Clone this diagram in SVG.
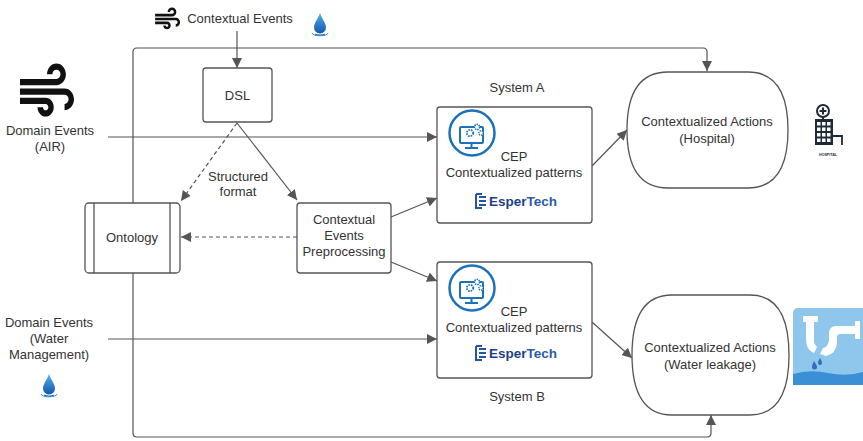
<svg xmlns="http://www.w3.org/2000/svg" width="863" height="441" viewBox="0 0 863 441">
  <style>
    .lbl { font-family: "Liberation Sans", Arial, sans-serif; font-size: 13px; fill: #333; text-anchor: middle; }
    .box { fill: #fff; stroke: #555; stroke-width: 1.3; }
    .edge { fill: none; stroke: #555; stroke-width: 1.2; }
    .dash { stroke-dasharray: 4 3; }
    .esper { font-family: "Liberation Sans", Arial, sans-serif; font-size: 13.5px; font-weight: bold; }
  </style>
  <defs>
    <marker id="arr" viewBox="0 0 10 10" refX="10" refY="5" markerWidth="10" markerHeight="10" markerUnits="userSpaceOnUse" orient="auto">
      <path d="M0,0 L10,5 L0,10 Z" fill="#555"/>
    </marker>
    <symbol id="wind" viewBox="0 0 24 24" preserveAspectRatio="none">
      <path fill="#111" d="M14.5 17c0 1.65-1.35 3-3 3s-3-1.35-3-3h2c0 .55.45 1 1 1s1-.45 1-1-.45-1-1-1H2v-2h9.5c1.650 0 3 1.35 3 3zM19 6.5C19 4.57 17.43 3 15.5 3S12 4.57 12 6.5h2c0-.83.67-1.5 1.5-1.5s1.5.67 1.5 1.5S16.330 8 15.5 8H2v2h13.5c1.93 0 3.5-1.57 3.5-3.5zm-.5 4.5H2v2h16.5c.83 0 1.5.67 1.5 1.5s-.67 1.5-1.5 1.5v2c1.93 0 3.5-1.570 3.5-3.5S20.43 11 18.5 11z"/>
    </symbol>
    <linearGradient id="dropGrad" x1="0" y1="0" x2="0" y2="1">
      <stop offset="0" stop-color="#4fb0ee"/>
      <stop offset="1" stop-color="#1457a8"/>
    </linearGradient>
    <symbol id="drop" viewBox="-10 -12 20 26" overflow="visible">
      <path d="M0,-11 C2,-5 6,-1 6,3.5 A6,6 0 0 1 -6,3.5 C-6,-1 -2,-5 0,-11 Z" fill="url(#dropGrad)"/>
      <path d="M-5,10.5 A8,2.5 0 0 0 5,10.5" fill="none" stroke="#1a6fc0" stroke-width="1.4"/>
      <path d="M-8,9 A8,2.8 0 0 0 8,9" fill="none" stroke="#3b8fd8" stroke-width="1"/>
    </symbol>
    <g id="cepIcon">
      <circle cx="472" cy="133" r="22.5" fill="#fff" stroke="#1b72ba" stroke-width="2.5"/>
      <rect x="460" y="127" width="23" height="16" rx="1" fill="none" stroke="#1b72ba" stroke-width="2"/>
      <line x1="471.5" y1="143" x2="471.5" y2="147" stroke="#1b72ba" stroke-width="2"/>
      <line x1="465" y1="148" x2="478" y2="148" stroke="#1b72ba" stroke-width="2"/>
      <circle cx="470" cy="133" r="3.2" fill="none" stroke="#1b72ba" stroke-width="1.8" stroke-dasharray="1.6 1"/>
      <circle cx="477" cy="127" r="2.6" fill="#fff" stroke="#1b72ba" stroke-width="1.6" stroke-dasharray="1.4 0.9"/>
      <circle cx="481" cy="133" r="2.2" fill="#fff" stroke="#1b72ba" stroke-width="1.5" stroke-dasharray="1.2 0.8"/>
    </g>
    <g id="esperLogo">
      <path d="M476,194 H482 M476,194 V208 H482 M479,201 H486 M479,205 H486 M479,197 H486" fill="none" stroke="#2456a6" stroke-width="2"/>
      <text class="esper" x="489" y="206"><tspan fill="#1d3f86">Esper</tspan><tspan fill="#2b5aa8">Tech</tspan></text>
    </g>
  </defs>

  <!-- connectors -->
  <g id="connectors">
    <path class="edge" d="M237,31 V68" marker-end="url(#arr)"/>
    <path class="edge" d="M133,203 V52 Q133,48 137,48 H703 Q707,48 707,52 V71" marker-end="url(#arr)"/>
    <path class="edge" d="M133,273 V433 Q133,437 137,437 H707 Q711,437 711,433 V415" marker-end="url(#arr)"/>
    <path class="edge" d="M108,137 H437" marker-end="url(#arr)"/>
    <path class="edge" d="M108,339 H437" marker-end="url(#arr)"/>
    <path class="edge" d="M237,123 L297,200" marker-end="url(#arr)"/>
    <path class="edge dash" d="M237,123 L181,201" marker-end="url(#arr)"/>
    <path class="edge dash" d="M297,237 H181" marker-end="url(#arr)"/>
    <path class="edge" d="M391,217 L437,198" marker-end="url(#arr)"/>
    <path class="edge" d="M391,262 L437,281" marker-end="url(#arr)"/>
    <path class="edge" d="M592,166 L627,130" marker-end="url(#arr)"/>
    <path class="edge" d="M592,322 L632,358" marker-end="url(#arr)"/>
    <text class="lbl" x="238" y="181">Structured</text>
    <text class="lbl" x="238" y="196">format</text>
  </g>

  <!-- contextual events source -->
  <g id="contextual-events">
    <use href="#wind" x="152.6" y="3.5" width="30" height="31"/>
    <text class="lbl" x="240" y="23">Contextual Events</text>
    <use href="#drop" x="310" y="12" width="20" height="26"/>
  </g>

  <!-- domain events AIR -->
  <g id="domain-air">
    <use href="#wind" x="14.6" y="54" width="64.8" height="75"/>
    <text class="lbl" x="50" y="135">Domain Events</text>
    <text class="lbl" x="50" y="151">(AIR)</text>
  </g>

  <!-- domain events water -->
  <g id="domain-water">
    <text class="lbl" x="49" y="327">Domain Events</text>
    <text class="lbl" x="49" y="343">(Water</text>
    <text class="lbl" x="49" y="359">Management)</text>
    <use href="#drop" x="39" y="373" width="20" height="26"/>
  </g>

  <!-- DSL -->
  <g id="dsl">
    <rect class="box" x="203" y="68" width="69" height="54" rx="3"/>
    <text class="lbl" x="237.5" y="100">DSL</text>
  </g>

  <!-- Ontology -->
  <g id="ontology">
    <rect class="box" x="85" y="203" width="95" height="70" rx="4"/>
    <line x1="94" y1="203" x2="94" y2="273" stroke="#555" stroke-width="1.3"/>
    <line x1="170" y1="203" x2="170" y2="273" stroke="#555" stroke-width="1.3"/>
    <text class="lbl" x="132" y="242">Ontology</text>
  </g>

  <!-- Contextual Events Preprocessing -->
  <g id="preprocessing">
    <rect class="box" x="297" y="203" width="94" height="70" rx="3"/>
    <text class="lbl" x="344" y="224">Contextual</text>
    <text class="lbl" x="344" y="240">Events</text>
    <text class="lbl" x="344" y="256">Preprocessing</text>
  </g>

  <!-- System A -->
  <g id="system-a">
    <text class="lbl" x="517" y="92">System A</text>
    <rect class="box" x="437" y="107" width="155" height="116" rx="3"/>
    <use href="#cepIcon"/>
    <text class="lbl" x="514" y="161">CEP</text>
    <text class="lbl" x="514" y="177">Contextualized patterns</text>
    <use href="#esperLogo"/>
  </g>

  <!-- System B -->
  <g id="system-b">
    <rect class="box" x="437" y="262" width="155" height="116" rx="3"/>
    <use href="#cepIcon" transform="translate(0,155)"/>
    <text class="lbl" x="514" y="316">CEP</text>
    <text class="lbl" x="514" y="332">Contextualized patterns</text>
    <use href="#esperLogo" transform="translate(0,152)"/>
    <text class="lbl" x="517" y="401">System B</text>
  </g>

  <!-- Contextualized Actions (Hospital) -->
  <g id="actions-hospital">
    <path class="box" d="M668,72 H748 Q788,72 788,130 Q788,188 748,188 H668 Q627,188 627,130 Q627,72 668,72 Z"/>
    <text class="lbl" x="707" y="126">Contextualized Actions</text>
    <text class="lbl" x="707" y="143">(Hospital)</text>
    <!-- hospital pictogram -->
    <circle cx="823" cy="111" r="6" fill="#fff" stroke="#1e2a38" stroke-width="2"/>
    <path d="M823,107.5 V114.5 M819.5,111 H826.5" stroke="#1e2a38" stroke-width="2"/>
    <line x1="823" y1="117" x2="823" y2="120" stroke="#1e2a38" stroke-width="2"/>
    <rect x="815" y="119" width="18" height="26" fill="#1e2a38"/>
    <g fill="#fff">
      <rect x="817" y="122" width="3.5" height="3.5"/><rect x="822" y="122" width="3.5" height="3.5"/><rect x="827" y="122" width="3.5" height="3.5"/>
      <rect x="817" y="127.5" width="3.5" height="3.5"/><rect x="822" y="127.5" width="3.5" height="3.5"/><rect x="827" y="127.5" width="3.5" height="3.5"/>
      <rect x="817" y="133" width="3.5" height="3.5"/><rect x="822" y="133" width="3.5" height="3.5"/><rect x="827" y="133" width="3.5" height="3.5"/>
      <rect x="817" y="138.5" width="3.5" height="3.5"/><rect x="822" y="138.5" width="3.5" height="3.5"/><rect x="827" y="138.5" width="3.5" height="3.5"/>
    </g>
    <path d="M833,136 H842 V145" fill="none" stroke="#1e2a38" stroke-width="1.8"/>
    <text x="828" y="156" font-family="Liberation Sans, Arial, sans-serif" font-size="3.6" font-weight="bold" fill="#1e2a38" text-anchor="middle">HOSPITAL</text>
  </g>

  <!-- Contextualized Actions (Water leakage) -->
  <g id="actions-water">
    <path class="box" d="M672,295 H750 Q789,295 789,355 Q789,415 750,415 H672 Q632,415 632,355 Q632,295 672,295 Z"/>
    <text class="lbl" x="710" y="352">Contextualized Actions</text>
    <text class="lbl" x="710" y="369">(Water leakage)</text>
    <!-- leaking pipe pictogram -->
    <rect x="793" y="308" width="80" height="77" rx="5" fill="#8ec6ec"/>
    <path d="M793,374 Q810,369 828,373 T863,372 V385 H793 Z" fill="#3b8fd4"/>
    <g fill="#fff">
      <rect x="803" y="316" width="15" height="6" rx="1"/>
      <path d="M806,322 H814 V343 L817,347 L814,353 Q809,351 807,346 Q806,342 806,336 Z"/>
      <path d="M820,354 L823,348 Q828,347 829,340 V334 Q829,326 836,326 H856 V334 H840 Q837,334 837,338 V343 Q836,354 826,356 Z"/>
      <rect x="855" y="321" width="5" height="18" rx="1"/>
    </g>
    <path d="M814,361 C815,363 817,365 817,367 A2.5,2.5 0 0 1 812,367 C812,365 813,363 814,361 Z" fill="#2f6fb8"/>
    <path d="M820,358 C821,360 822,361 822,363 A2,2 0 0 1 818,363 C818,361 819,360 820,358 Z" fill="#2f6fb8"/>
  </g>
</svg>
